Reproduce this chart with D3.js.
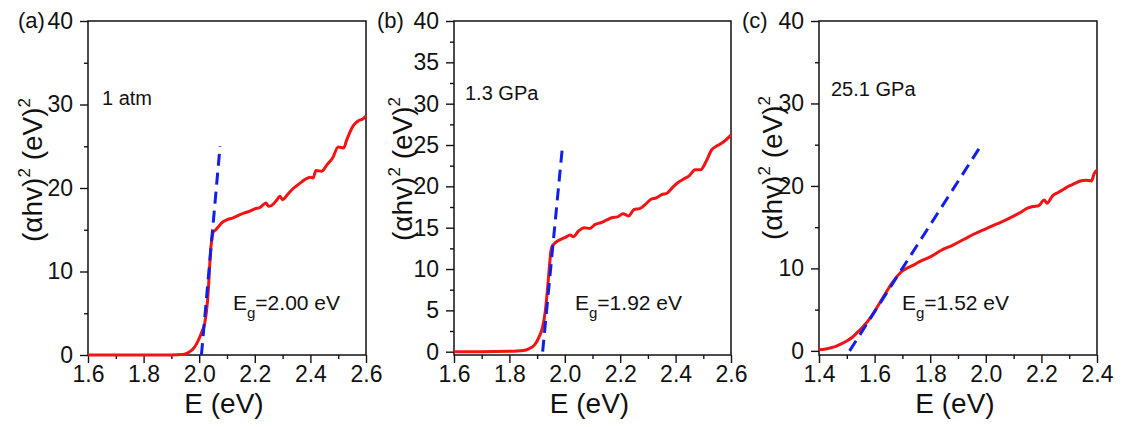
<!DOCTYPE html>
<html>
<head>
<meta charset="utf-8">
<script src="https://cdn.jsdelivr.net/npm/d3@7/dist/d3.min.js"></script>
<style>
  html, body { margin: 0; padding: 0; background: #fff; }
  svg { display: block; }
  text { font-family: "Liberation Sans", Arial, sans-serif; fill: #111; }
</style>
</head>
<body>
<svg id="chart" width="1123" height="427"></svg>
<script>
// ---------- data ----------
const panelLabels = ["(a)", "(b)", "(c)"];
const pressureLabels = ["1 atm", "1.3 GPa", "25.1 GPa"];
const gapValues = ["2.00 eV", "1.92 eV", "1.52 eV"];

const aE = [1.60,1.70,1.80,1.90,1.94,1.955,1.97,1.98,1.99,2.00,2.01,2.02,2.03,2.035,2.04,2.045,2.05,2.06,2.07,2.08,2.10,2.12,2.14,2.16,2.18,2.20,2.22,2.24,2.25,2.26,2.28,2.29,2.30,2.32,2.34,2.36,2.38,2.40,2.41,2.42,2.44,2.46,2.48,2.50,2.52,2.53,2.555,2.57,2.59,2.60];
const aY = [0,0,0,0,0.05,0.2,0.5,0.8,1.3,2.0,2.8,3.8,6.5,9.0,12.0,13.8,14.7,15.0,15.4,15.8,16.2,16.4,16.7,17.0,17.2,17.5,17.7,18.2,17.8,17.9,18.6,19.0,18.6,19.3,20.0,20.5,21.0,21.3,21.2,22.1,22.0,22.8,23.6,24.9,24.8,25.7,27.5,28.0,28.3,28.6];

const bE = [1.60,1.70,1.80,1.85,1.87,1.89,1.90,1.91,1.92,1.93,1.94,1.945,1.95,1.955,1.96,1.97,1.98,2.00,2.02,2.03,2.05,2.07,2.09,2.11,2.13,2.15,2.17,2.19,2.21,2.23,2.25,2.27,2.29,2.31,2.33,2.35,2.37,2.39,2.41,2.43,2.45,2.47,2.49,2.51,2.53,2.55,2.57,2.60];
const bY = [0,0,0.05,0.15,0.35,0.8,1.3,2.0,3.0,5.0,8.5,10.5,12.2,12.8,13.0,13.3,13.5,13.8,14.1,13.9,14.6,15.0,14.9,15.4,15.6,15.9,16.2,16.3,16.7,16.4,17.2,17.3,17.8,18.4,18.6,19.0,19.2,19.9,20.5,20.9,21.3,22.0,22.0,23.0,24.4,24.9,25.3,26.2];

const cE = [1.40,1.42,1.44,1.46,1.48,1.50,1.52,1.54,1.56,1.58,1.60,1.62,1.64,1.66,1.68,1.70,1.72,1.74,1.76,1.78,1.80,1.84,1.88,1.92,1.96,2.00,2.04,2.08,2.12,2.15,2.17,2.19,2.21,2.22,2.24,2.26,2.28,2.30,2.32,2.34,2.36,2.38,2.39,2.40];
const cY = [0.15,0.2,0.35,0.55,0.85,1.2,1.65,2.3,3.0,3.8,4.8,5.9,7.0,8.1,9.0,9.7,10.1,10.4,10.8,11.1,11.4,12.2,12.8,13.5,14.2,14.8,15.4,16.0,16.7,17.3,17.5,17.6,18.3,17.9,18.8,19.2,19.6,20.0,20.3,20.6,20.7,20.6,21.5,21.9];

// linear fits (Tauc extrapolation), endpoints
const aFitE = [2.008, 2.075], aFitY = [0, 25];
const bFitE = [1.920, 1.992], bFitY = [0, 25];
const cFitE = [1.510, 1.975], cFitY = [0, 24.5];

// axes
const abXDomain = [1.6, 2.6], cXDomain = [1.4, 2.4];
const abXTicks = [1.6, 1.8, 2.0, 2.2, 2.4, 2.6];
const abXMinor = [1.7, 1.9, 2.1, 2.3, 2.5];
const cXTicks = [1.4, 1.6, 1.8, 2.0, 2.2, 2.4];
const cXMinor = [1.5, 1.7, 1.9, 2.1, 2.3];
const acYTicks = [0, 10, 20, 30, 40];
const acYMinor = [5, 15, 25, 35];
const bYTicks = [0, 5, 10, 15, 20, 25, 30, 35, 40];
const bYMinor = [2.5, 7.5, 12.5, 17.5, 22.5, 27.5, 32.5, 37.5];
const aYDomain = [0, 40], bYDomain = [-0.4, 40], cYDomain = [-0.5, 40];

// ---------- layout ----------
const panels = [
  { E: aE, Y: aY, fE: aFitE, fY: aFitY, xd: abXDomain, xt: abXTicks, xm: abXMinor, yd: aYDomain, yt: acYTicks, ym: acYMinor,
    left: 88, right: 366, lab: [18, 28], pres: [102, 105], gap: [233, 310], ylab: [42, 170] },
  { E: bE, Y: bY, fE: bFitE, fY: bFitY, xd: abXDomain, xt: abXTicks, xm: abXMinor, yd: bYDomain, yt: bYTicks, ym: bYMinor,
    left: 454, right: 731, lab: [377, 28], pres: [465, 100], gap: [575, 310], ylab: [412, 169] },
  { E: cE, Y: cY, fE: cFitE, fY: cFitY, xd: cXDomain, xt: cXTicks, xm: cXMinor, yd: cYDomain, yt: acYTicks, ym: acYMinor,
    left: 819, right: 1097, lab: [742, 28], pres: [831, 96], gap: [902, 310], ylab: [782, 168] }
];
const plotTop = 21, plotBottom = 355;
const svg = d3.select("#chart");
const fmt = d3.format(".1f");

panels.forEach((p, i) => {
  const x = d3.scaleLinear().domain(p.xd).range([p.left, p.right]);
  const y = d3.scaleLinear().domain(p.yd).range([plotBottom, plotTop]);
  const g = svg.append("g");

  // minor ticks
  g.append("g").attr("transform", `translate(0,${plotBottom})`)
    .call(d3.axisBottom(x).tickValues(p.xm).tickSize(4).tickFormat(""))
    .call(s => s.select(".domain").remove());
  g.append("g").attr("transform", `translate(${p.left},0)`)
    .call(d3.axisLeft(y).tickValues(p.ym).tickSize(4).tickFormat(""))
    .call(s => s.select(".domain").remove());

  // major ticks
  const xa = g.append("g").attr("transform", `translate(0,${plotBottom})`)
    .call(d3.axisBottom(x).tickValues(p.xt).tickSize(8).tickPadding(3).tickFormat(fmt));
  xa.select(".domain").remove();
  xa.selectAll("text").style("font-size", "23px").style("font-family", "Liberation Sans, Arial, sans-serif").attr("fill", "#111");
  const ya = g.append("g").attr("transform", `translate(${p.left},0)`)
    .call(d3.axisLeft(y).tickValues(p.yt).tickSize(8).tickPadding(7).tickFormat(d3.format("d")));
  ya.select(".domain").remove();
  ya.selectAll("text").style("font-size", "23px").style("font-family", "Liberation Sans, Arial, sans-serif").attr("fill", "#111");
  g.selectAll(".tick line").attr("stroke", "#111").attr("stroke-width", 1.4);

  // frame
  g.append("rect").attr("x", p.left).attr("y", plotTop)
    .attr("width", p.right - p.left).attr("height", plotBottom - plotTop)
    .attr("fill", "none").attr("stroke", "#111").attr("stroke-width", 1.5);

  // data curve
  const pts = p.E.map((e, k) => [e, p.Y[k]]);
  const line = d3.line().x(d => x(d[0])).y(d => y(d[1])).curve(d3.curveMonotoneX);
  g.append("path").datum(pts).attr("d", line)
    .attr("fill", "none").attr("stroke", "#f21414").attr("stroke-width", 3).attr("stroke-linejoin", "round");

  // fit line
  const fit = p.fE.map((e, k) => [e, p.fY[k]]);
  g.append("path").datum(fit).attr("d", d3.line().x(d => x(d[0])).y(d => y(d[1])))
    .attr("fill", "none").attr("stroke", "#1020e8").attr("stroke-width", 3)
    .attr("stroke-dasharray", "12,7");

  // texts
  g.append("text").attr("x", p.lab[0]).attr("y", p.lab[1]).style("font-size", "22px").text(panelLabels[i]);
  g.append("text").attr("x", p.pres[0]).attr("y", p.pres[1]).style("font-size", "20px").text(pressureLabels[i]);
  const eg = g.append("text").attr("x", p.gap[0]).attr("y", p.gap[1]).style("font-size", "21px");
  eg.append("tspan").text("E");
  eg.append("tspan").attr("dy", 8).style("font-size", "15px").text("g");
  eg.append("tspan").attr("dy", -8).text("=" + gapValues[i]);

  // axis titles
  g.append("text").attr("x", (p.left + p.right) / 2 - 3).attr("y", 413)
    .attr("text-anchor", "middle").style("font-size", "28px").text("E (eV)");
  const yl = g.append("text").attr("transform", `translate(${p.ylab[0]},${p.ylab[1]}) rotate(-90)`)
    .attr("text-anchor", "middle").style("font-size", "28px");
  yl.append("tspan").text("(αhv)");
  yl.append("tspan").attr("dy", -12).style("font-size", "17px").text("2");
  yl.append("tspan").attr("dy", 12).text(" (eV)");
  yl.append("tspan").attr("dy", -12).style("font-size", "17px").text("2");
});
</script>
</body>
</html>
